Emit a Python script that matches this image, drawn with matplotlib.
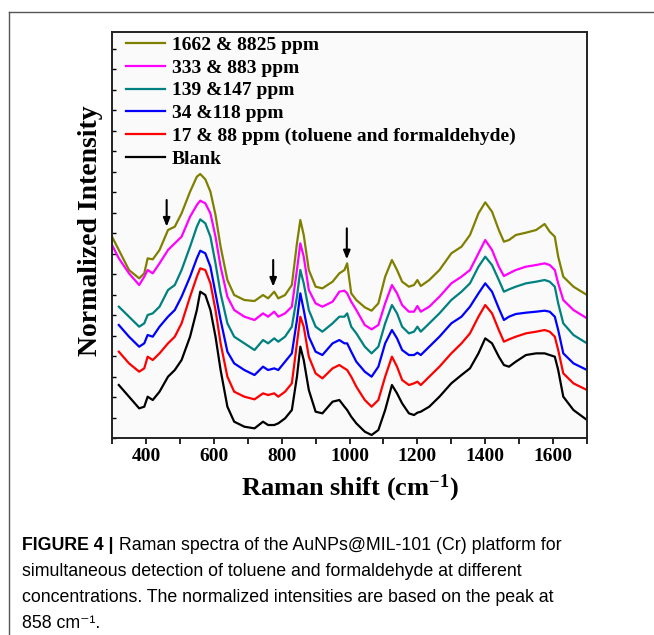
import numpy as np
import matplotlib
matplotlib.use("Agg")
from matplotlib import pyplot as plt
from matplotlib.lines import Line2D
from matplotlib.text import Annotation
from matplotlib.ticker import MultipleLocator, NullFormatter

# Raman shift (cm-1) sample points
shift = [300, 320, 350, 380, 395, 405, 420, 440, 465, 485,
         505, 530, 550, 560, 575, 590, 605, 620, 640, 660,
         690, 720, 745, 760, 778, 790, 810, 830, 845, 855,
         865, 880, 900, 920, 950, 970, 985, 993, 1005, 1020,
         1045, 1065, 1085, 1105, 1125, 1140, 1155, 1175, 1190, 1200,
         1210, 1235, 1265, 1300, 1330, 1355, 1380, 1400, 1420, 1440,
         1455, 1470, 1490, 1520, 1550, 1575, 1590, 1605, 1615, 1630,
         1660, 1700]
shift_short = shift[1:]

# normalized intensity (arbitrary units, stacked)
i_1662 = [604, 564, 504, 479, 494, 539, 536, 564, 624, 634,
          674, 739, 784, 792, 776, 739, 669, 574, 474, 429,
          414, 411, 429, 419, 439, 419, 429, 459, 584, 654,
          609, 504, 454, 449, 469, 494, 504, 524, 434, 414,
          392, 382, 404, 484, 534, 504, 469, 454, 459, 474,
          456, 474, 504, 554, 574, 609, 674, 707, 679, 624,
          589, 594, 609, 616, 624, 642, 619, 604, 544, 484,
          454, 429]
i_333 = [579, 539, 494, 459, 484, 504, 494, 524, 564, 584,
         604, 664, 699, 712, 704, 674, 604, 514, 424, 384,
         364, 354, 374, 364, 379, 364, 374, 394, 504, 584,
         544, 444, 404, 394, 409, 439, 442, 434, 409, 384,
         339, 326, 339, 404, 459, 434, 399, 379, 379, 396,
         379, 394, 424, 464, 484, 504, 554, 594, 564, 514,
         486, 494, 504, 514, 519, 524, 519, 504, 464, 414,
         384, 359]
i_139 = [394, 364, 334, 344, 369, 374, 394, 444, 459, 504,
         574, 634, 656, 644, 604, 524, 434, 344, 304, 284,
         264, 294, 284, 299, 289, 304, 334, 424, 504, 464,
         384, 334, 319, 344, 364, 364, 374, 334, 314, 274,
         254, 274, 344, 399, 374, 334, 314, 319, 334, 319,
         344, 374, 414, 439, 464, 514, 544, 519, 474, 439,
         446, 454, 464, 469, 474, 469, 454, 404, 344, 309,
         284]
i_34 = [339, 304, 274, 284, 309, 304, 334, 364, 384, 424,
        484, 539, 562, 554, 514, 434, 354, 259, 224, 204,
        189, 214, 204, 209, 204, 229, 254, 354, 434, 384,
        304, 259, 249, 284, 294, 284, 284, 259, 229, 199,
        184, 214, 284, 324, 299, 264, 249, 249, 256, 249,
        274, 304, 344, 364, 394, 434, 464, 439, 389, 354,
        364, 372, 376, 379, 382, 379, 364, 324, 254, 224,
        204]
i_17 = [259, 224, 199, 209, 244, 234, 254, 284, 304, 344,
        424, 484, 509, 504, 464, 384, 284, 184, 139, 124,
        116, 134, 129, 134, 124, 139, 164, 284, 364, 334,
        244, 194, 179, 209, 219, 209, 204, 184, 154, 114,
        94, 114, 184, 244, 214, 174, 159, 164, 169, 159,
        184, 214, 254, 284, 314, 364, 399, 374, 324, 289,
        296, 304, 314, 319, 324, 319, 304, 264, 194, 164,
        144]
i_blank = [159, 124, 89, 94, 124, 114, 139, 184, 204, 234,
           304, 384, 439, 429, 384, 304, 204, 94, 49, 34,
           29, 49, 39, 39, 44, 59, 84, 184, 274, 234,
           144, 79, 74, 109, 114, 94, 84, 64, 44, 19,
           9, 24, 84, 159, 134, 104, 74, 69, 76, 79,
           94, 124, 164, 189, 209, 254, 299, 284, 244, 219,
           214, 229, 249, 254, 254, 249, 244, 204, 124, 84,
           54]

labels = ["1662 & 8825 ppm", "333 & 883 ppm", "139 &147 ppm", "34 &118 ppm",
          "17 & 88 ppm (toluene and formaldehyde)", "Blank"]
colors = ["#808000", "#ff00ff", "#008080", "#0000ff", "#ff0000", "#000000"]

# arrows: (shift, tail, head)
arrows = [(461, 714, 634), (775, 534, 454), (992, 629, 536)]

caption_head = "FIGURE 4 |"
caption_first = " Raman spectra of the AuNPs@MIL-101 (Cr) platform for"
caption = ["simultaneous detection of toluene and formaldehyde at different",
           "concentrations. The normalized intensities are based on the peak at",
           "858 cm\u207b\u00b9."]

plt.rcParams['mathtext.fontset'] = 'custom'
plt.rcParams['mathtext.rm'] = 'Liberation Serif:bold'
plt.rcParams['mathtext.default'] = 'rm'

fig = plt.figure(figsize=(6.54, 6.35), dpi=100)
ax = fig.add_axes([0.1713, 0.3102, 0.7263, 0.6394])
ax.set_facecolor("#fafafa")

series = [(shift, i_1662), (shift, i_333), (shift_short, i_139),
          (shift_short, i_34), (shift_short, i_17), (shift_short, i_blank)]
for (xs, ys), lab, c in zip(series, labels, colors):
    ax.plot(xs, ys, color=c, lw=1.6, label=lab)

for xa, tail, head in arrows:
    ax.annotate("", xy=(xa, head), xytext=(xa, tail),
                arrowprops=dict(arrowstyle="-|>,head_length=0.5,head_width=0.2",
                                color="black", lw=1.5, shrinkA=0, shrinkB=0))

ax.set_xlim(300, 1700)
ax.set_ylim(0, 1218)
ax.xaxis.set_minor_locator(MultipleLocator(100))
ax.set_xticks([400, 600, 800, 1000, 1200, 1400, 1600])
ax.set_yticks(np.arange(0, 1218, 61.5))
ax.yaxis.set_major_formatter(NullFormatter())
ax.tick_params(axis='x', which='both', direction='out', length=4, width=1.2,
               labelsize=14, pad=3)
ax.tick_params(axis='y', which='both', direction='in', length=3, width=1)
for lab in ax.get_xticklabels():
    lab.set_fontfamily("Liberation Serif")
    lab.set_fontweight("bold")
for s in ax.spines.values():
    s.set_linewidth(1.4)
    s.set_color("#222222")

ax.set_xlabel(r"Raman shift (cm$^{-1}$)", fontsize=19, fontweight="bold",
              family="Liberation Serif", labelpad=6)
ax.set_ylabel("Normalized Intensity", fontsize=20, fontweight="bold",
              family="Liberation Serif")
ax.yaxis.set_label_coords(-0.02, 0.51)

ax.legend(loc="upper left", bbox_to_anchor=(0.03, 0.99), frameon=False,
          prop=dict(family="Liberation Serif", weight="bold", size=14),
          handlelength=2.0, handletextpad=0.35, labelspacing=0.27,
          borderpad=0, borderaxespad=0)

# outer frame of the figure panel
fig.add_artist(Line2D([9 / 654, 9 / 654], [0, 1 - 12 / 635], color="#555555", lw=1))
fig.add_artist(Line2D([9 / 654, 1], [1 - 12 / 635, 1 - 12 / 635], color="#555555", lw=1))

cap_font = ["Liberation Sans", "DejaVu Sans"]
cap_size = 12.8
t1 = fig.text(22 / 654, 1 - 546 / 635, caption_head, fontsize=cap_size,
              fontweight="bold", family=cap_font, va="center", ha="left")
fig.add_artist(Annotation(caption_first, xy=(1, 0), xycoords=t1,
                          va="bottom", ha="left", fontsize=cap_size, family=cap_font))
for k, line in enumerate(caption):
    fig.text(22 / 654, 1 - (572 + 26 * k) / 635, line, fontsize=cap_size,
             family=cap_font, va="center", ha="left")

fig.savefig("out.png", dpi=100)
